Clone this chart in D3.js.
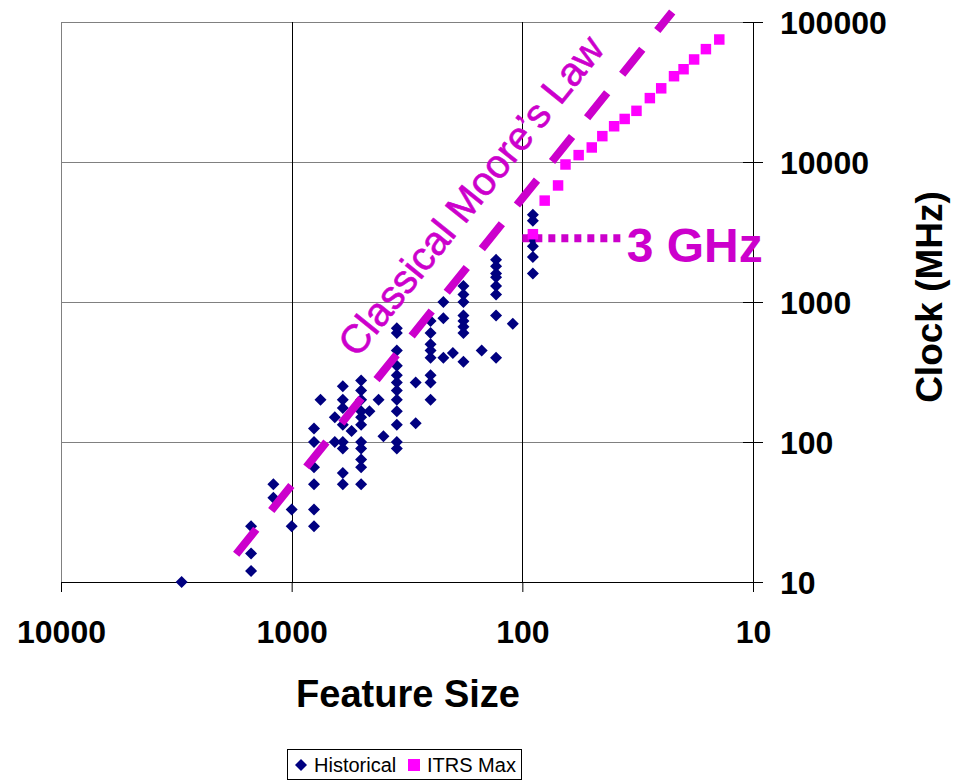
<!DOCTYPE html>
<html>
<head>
<meta charset="utf-8">
<script src="https://cdn.jsdelivr.net/npm/d3@7"></script>
<style>
body { margin: 0; background: #fff; }
text { font-family: "Liberation Sans", Arial, sans-serif; }
</style>
</head>
<body>
<svg width="958" height="781"></svg>
<script>
// historical chips: feature size (nm) and clock (MHz), read column by column
var histSize = [3000,
    1500, 1500, 1500,
    1200, 1200,
    1000, 1000,
    800, 800, 800, 800, 800, 800,
    750,
    650, 650,
    600, 600, 600, 600, 600, 600, 600, 600,
    550,
    500, 500, 500, 500, 500, 500, 500, 500, 500, 500, 500,
    460, 420, 400,
    350, 350, 350, 350, 350, 350, 350, 350, 350, 350, 350, 350,
    290, 290,
    250, 250, 250, 250, 250, 250, 250, 250,
    220, 220, 220,
    200,
    180, 180, 180, 180, 180, 180, 180, 180,
    150,
    130, 130, 130, 130, 130, 130, 130, 130,
    110,
    90, 90, 90, 90, 90, 90, 90]
var histClock = [10,
    12, 16, 25,
    40, 50,
    25, 33,
    125, 100, 66, 50, 33, 25,
    200,
    150, 100,
    250, 200, 175, 133, 100, 90, 60, 50,
    120,
    275, 233, 200, 166, 150, 133, 100, 90, 75, 66, 50,
    166, 200, 110,
    650, 600, 450, 350, 300, 266, 233, 200, 166, 133, 100, 90,
    266, 136,
    733, 600, 500, 450, 400, 300, 266, 200,
    1000, 766, 400,
    433,
    1300, 1130, 1000, 800, 733, 666, 600, 375,
    450,
    2000, 1800, 1600, 1500, 1300, 1130, 800, 400,
    700,
    4200, 3800, 3000, 2800, 2500, 2100, 1600]

// ITRS roadmap maximum
var itrsSize = [90, 80, 70, 65, 57, 50, 45, 40, 36, 32, 28, 25, 22, 20, 18, 16, 14]
var itrsClock = [3050, 5300, 6800, 9600, 11200, 12700, 15300, 18000, 20300, 23200, 28600, 33600, 41000, 46000, 54000, 64000, 75000]

// classical moore's law trend (end points) and the 3 GHz wall
var mooreSize = [1740, 22.4]
var mooreClock = [15.8, 118000]
var ghzSize = [100, 36]
var ghzClock = [2850, 2850]

var xTicks = [10000, 1000, 100, 10]
var yTicks = [10, 100, 1000, 10000, 100000]

var navy = "#000080"
var pink = "#FF00FF"
var magenta = "#CC00CC"

var svg = d3.select("svg")
var plotL = 61, plotR = 753, plotT = 22, plotB = 582

var x = d3.scaleLog().domain([10000, 10]).range([plotL, plotR])
var y = d3.scaleLog().domain([10, 100000]).range([plotB, plotT])

// plot frame and grid
svg.append("rect").attr("x", plotL + 0.5).attr("y", plotT + 0.5)
    .attr("width", plotR - plotL).attr("height", plotB - plotT)
    .attr("style", "fill: none; stroke: #808080; stroke-width: 1")

svg.selectAll(".hgrid").data(yTicks).enter().append("line")
    .attr("class", "hgrid")
    .attr("x1", plotL).attr("x2", plotR)
    .attr("y1", function(d) { return Math.round(y(d)) + 0.5 })
    .attr("y2", function(d) { return Math.round(y(d)) + 0.5 })
    .attr("style", "stroke: #808080; stroke-width: 1")

svg.selectAll(".vgrid").data(xTicks.slice(1, 3)).enter().append("line")
    .attr("class", "vgrid")
    .attr("x1", function(d) { return Math.round(x(d)) + 0.5 })
    .attr("x2", function(d) { return Math.round(x(d)) + 0.5 })
    .attr("y1", plotT).attr("y2", plotB)
    .attr("style", "stroke: #000; stroke-width: 1")

// x axis at the bottom
var xAxis = svg.append("g").attr("transform", "translate(0," + plotB + ")")
    .call(d3.axisBottom(x).tickValues(xTicks).tickFormat(d3.format("d"))
        .tickSizeInner(10).tickSizeOuter(0).tickPadding(28))
xAxis.select(".domain").attr("stroke", "#000")
xAxis.selectAll("text").attr("font-size", "32px").attr("font-weight", "bold").attr("fill", "#000")
    .attr("font-family", "Liberation Sans, Arial, sans-serif")

// y axis on the right, ticks cross the line
var yAxis = svg.append("g").attr("transform", "translate(" + plotR + ",0)")
    .call(d3.axisRight(y).tickValues(yTicks).tickFormat(d3.format("d"))
        .tickSizeInner(10).tickSizeOuter(0).tickPadding(17))
yAxis.select(".domain").attr("d", "M0.5," + plotT + "V" + (plotB + 10)).attr("stroke", "#000")
yAxis.selectAll(".tick line").attr("x1", -10)
yAxis.selectAll("text").attr("font-size", "32px").attr("font-weight", "bold").attr("fill", "#000")
    .attr("dy", "0.36em").attr("font-family", "Liberation Sans, Arial, sans-serif")

// axis titles
svg.append("text").attr("x", 408).attr("y", 707)
    .attr("text-anchor", "middle").attr("font-size", "38px").attr("font-weight", "bold")
    .text("Feature Size")
svg.append("text").attr("transform", "translate(942,297) rotate(-90)")
    .attr("text-anchor", "middle").attr("font-size", "37px").attr("font-weight", "bold")
    .text("Clock (MHz)")

// historical diamonds
var hist = histSize.map(function(s, i) { return {size: s, clock: histClock[i]} })
var diamond = d3.symbol().type(d3.symbolSquare).size(72)
svg.selectAll(".hist").data(hist).enter().append("path")
    .attr("class", "hist")
    .attr("d", diamond)
    .attr("transform", function(d) { return "translate(" + x(d.size) + "," + y(d.clock) + ") rotate(45)" })
    .attr("fill", navy)

// moore's law dashed trend
var line = d3.line().x(function(d) { return x(d.size) }).y(function(d) { return y(d.clock) })
var moore = mooreSize.map(function(s, i) { return {size: s, clock: mooreClock[i]} })
svg.append("path").attr("d", line(moore))
    .attr("style", "fill: none; stroke: " + magenta + "; stroke-width: 8; stroke-dasharray: 32 24")

var ang = Math.atan2(y(mooreClock[1]) - y(mooreClock[0]), x(mooreSize[1]) - x(mooreSize[0])) * 180 / Math.PI
svg.append("text")
    .attr("transform", "translate(" + x(150) + "," + y(5000) + ") rotate(" + ang + ")")
    .attr("text-anchor", "middle").attr("font-size", "40px").attr("fill", magenta)
    .attr("stroke", magenta).attr("stroke-width", 0.6)
    .text("Classical Moore\u2019s Law")

// 3 GHz dotted wall
var ghz = ghzSize.map(function(s, i) { return {size: s, clock: ghzClock[i]} })
svg.append("path").attr("d", line(ghz))
    .attr("style", "fill: none; stroke: " + magenta + "; stroke-width: 8; stroke-dasharray: 7 6")
svg.append("text").attr("x", x(ghzSize[1]) + 2).attr("y", y(ghzClock[1]) + 24)
    .attr("font-size", "48px").attr("font-weight", "bold").attr("fill", magenta)
    .text("3 GHz")

// ITRS squares
var itrs = itrsSize.map(function(s, i) { return {size: s, clock: itrsClock[i]} })
svg.selectAll(".itrs").data(itrs).enter().append("path")
    .attr("class", "itrs")
    .attr("d", d3.symbol().type(d3.symbolSquare).size(110))
    .attr("transform", function(d) { return "translate(" + x(d.size) + "," + y(d.clock) + ")" })
    .attr("fill", pink)

// legend
var legend = svg.append("g")
legend.append("rect").attr("x", 287.5).attr("y", 749.5).attr("width", 234).attr("height", 30)
    .attr("style", "fill: #fff; stroke: #000; stroke-width: 1")
legend.append("path").attr("d", diamond).attr("transform", "translate(301,765) rotate(45)").attr("fill", navy)
legend.append("text").attr("x", 314).attr("y", 772).attr("font-size", "20px").text("Historical")
legend.append("rect").attr("x", 408).attr("y", 759).attr("width", 12).attr("height", 12).attr("fill", pink)
legend.append("text").attr("x", 427).attr("y", 772).attr("font-size", "20px").text("ITRS Max")
</script>
</body>
</html>
